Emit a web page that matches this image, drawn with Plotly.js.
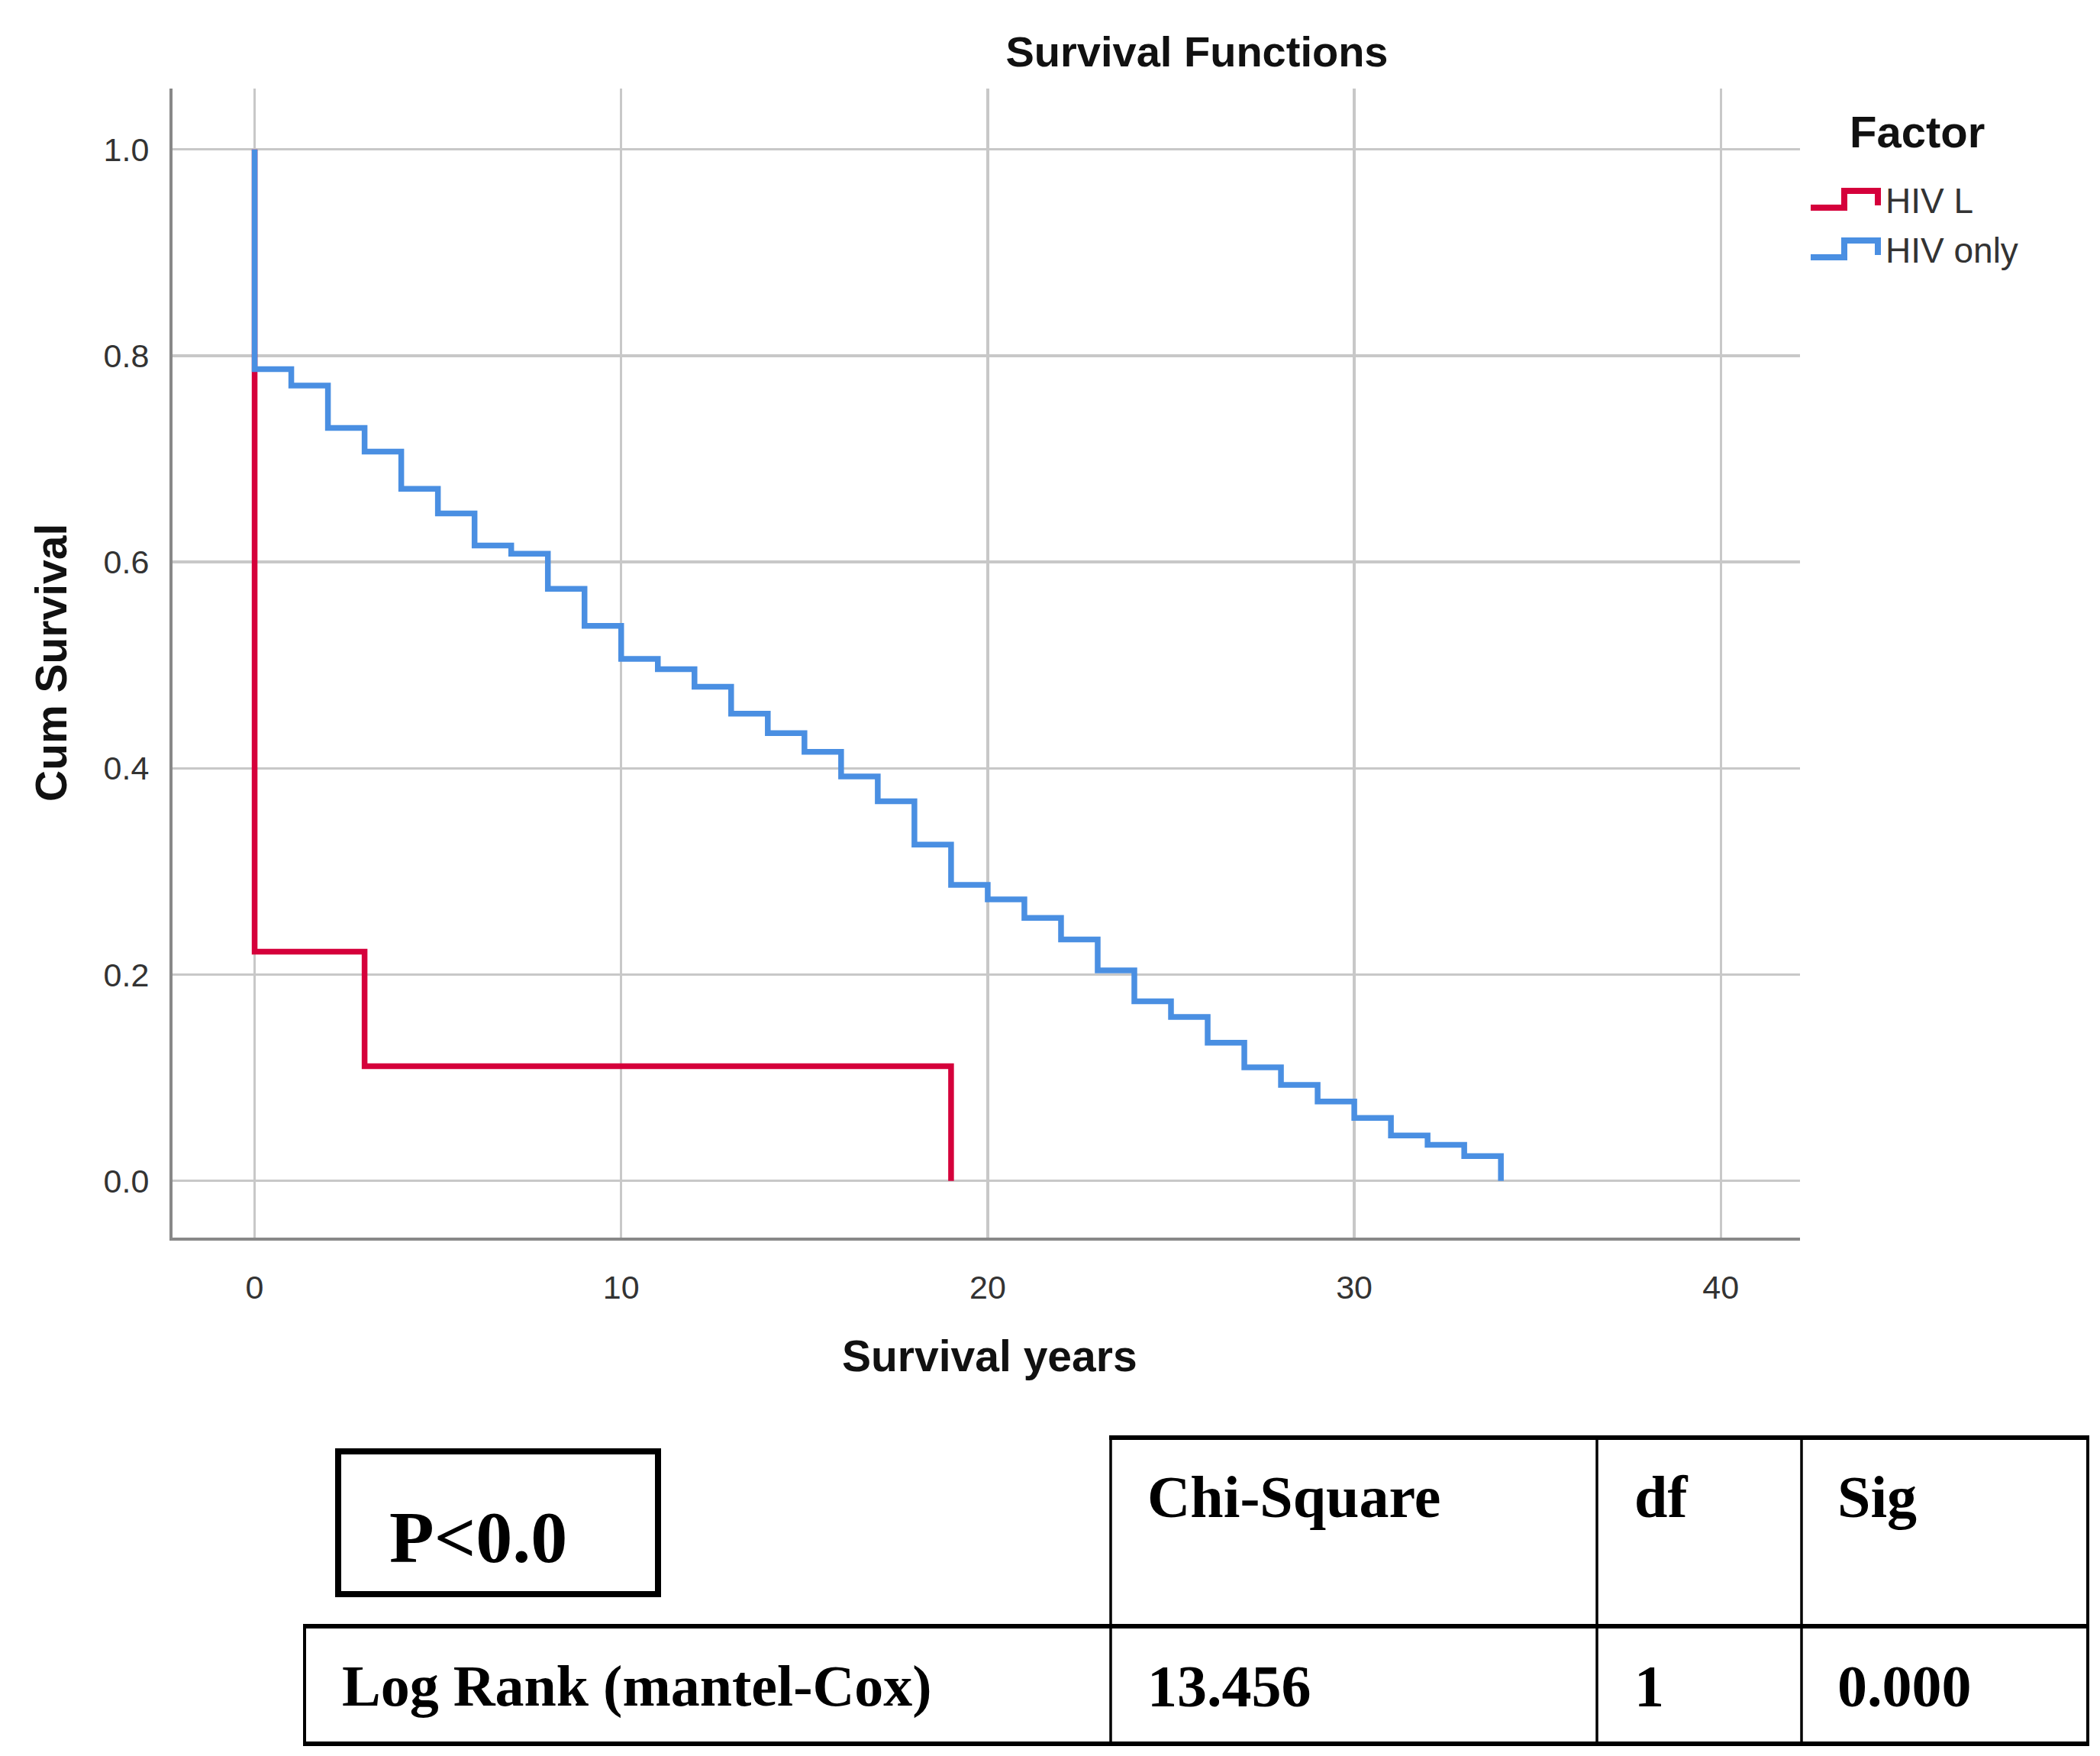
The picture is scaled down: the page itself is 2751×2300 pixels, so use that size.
<!DOCTYPE html>
<html>
<head>
<meta charset="utf-8">
<script src="https://cdn.plot.ly/plotly-3.0.1.min.js"></script>
<style>html,body{margin:0;padding:0;background:#fff;}#chart{width:2751px;height:2300px;}</style>
</head>
<body>
<div id="chart"></div>
<script>
// ---- data ----
const seriesNames = ["HIV L", "HIV only"];
const hivLTime = [0, 0, 3, 19];
const hivLSurv = [1.0, 0.2222, 0.1111, 0.0];
const hivOnlyTime = [0, 0, 1, 2, 3, 4, 5, 6, 7, 8, 9, 10, 11, 12, 13, 14, 15, 16, 17, 18, 19, 20, 21, 22, 23, 24, 25, 26, 27, 28, 29, 30, 31, 32, 33, 34];
const hivOnlySurv = [1.0, 0.787, 0.771, 0.730, 0.707, 0.671, 0.647, 0.616, 0.608, 0.574, 0.538, 0.506, 0.496, 0.479, 0.453, 0.434, 0.416, 0.392, 0.368, 0.326, 0.287, 0.273, 0.255, 0.234, 0.204, 0.174, 0.159, 0.134, 0.110, 0.093, 0.077, 0.061, 0.044, 0.035, 0.024, 0.0];
const xTicks = [0, 10, 20, 30, 40];
const yTicks = [0.0, 0.2, 0.4, 0.6, 0.8, 1.0];
const yTickLabels = ["0.0", "0.2", "0.4", "0.6", "0.8", "1.0"];
const tableHeader = ["Chi-Square", "df", "Sig"];
const tableRowLabel = "Log Rank (mantel-Cox)";
const tableRowValues = ["13.456", "1", "0.000"];
const pText = "P<0.0";

// ---- layout helpers (pixel -> paper) ----
const W = 2751, H = 2300;
const L = 226, R = 2358, T = 116, B = 1621;
const px = x => (x - L) / (R - L);
const py = y => (B - y) / (B - T);

const colors = ["#d5003b", "#4a8fe2"];
const sansFont = "Liberation Sans, Arial, sans-serif";
const serifFont = "Liberation Serif, Times New Roman, serif";

const traces = [
  {x: hivLTime, y: hivLSurv, name: seriesNames[0], type: "scatter", mode: "lines",
   line: {shape: "hv", color: colors[0], width: 7.5}, showlegend: false},
  {x: hivOnlyTime, y: hivOnlySurv, name: seriesNames[1], type: "scatter", mode: "lines",
   line: {shape: "hv", color: colors[1], width: 7.5}, showlegend: false}
];

const shapes = [];
const annotations = [];

// custom legend (step-shaped symbols)
[0, 1].forEach(i => {
  const dy = i * 65;
  const x0 = px(2372), x1 = px(2416), x2 = px(2460);
  const yl = py(272 + dy), yh = py(250 + dy), yt = py(269 + dy);
  shapes.push({type: "path", xref: "paper", yref: "paper",
    path: `M ${x0} ${yl} L ${x1} ${yl} L ${x1} ${yh} L ${x2} ${yh} L ${x2} ${yt}`,
    line: {color: colors[i], width: 8}});
  annotations.push({xref: "paper", yref: "paper", x: px(2468), y: py(263 + dy),
    xanchor: "left", yanchor: "middle", showarrow: false, text: seriesNames[i],
    font: {family: sansFont, size: 46, color: "#333"}});
});
annotations.push({xref: "paper", yref: "paper", x: px(2511), y: py(173), xanchor: "center", yanchor: "middle",
  showarrow: false, text: "<b>Factor</b>", font: {family: sansFont, size: 58, color: "#111"}});

// axis titles
annotations.push({xref: "paper", yref: "paper", x: px(1296), y: py(1776), xanchor: "center", yanchor: "middle",
  showarrow: false, text: "<b>Survival years</b>", font: {family: sansFont, size: 57, color: "#111"}});
annotations.push({xref: "paper", yref: "paper", x: px(67), y: py(868), xanchor: "center", yanchor: "middle",
  showarrow: false, textangle: -90, text: "<b>Cum Survival</b>", font: {family: sansFont, size: 57, color: "#111"}});

// P box
shapes.push({type: "rect", xref: "paper", yref: "paper", x0: px(443), x1: px(862), y0: py(1901), y1: py(2088),
  line: {color: "#000", width: 8}});
annotations.push({xref: "paper", yref: "paper", x: px(508), y: py(2014), xanchor: "left", yanchor: "middle",
  showarrow: false, text: "<b>" + pText.replace("<", "&lt;") + "</b>", font: {family: serifFont, size: 96, color: "#000"}});

// table lines
const hl = (xa, xb, y, w) => shapes.push({type: "line", xref: "paper", yref: "paper", x0: px(xa), x1: px(xb), y0: py(y), y1: py(y), line: {color: "#000", width: w}});
const vl = (x, ya, yb, w) => shapes.push({type: "line", xref: "paper", yref: "paper", x0: px(x), x1: px(x), y0: py(ya), y1: py(yb), line: {color: "#000", width: w}});
hl(1453, 2737, 1883, 6);
hl(397, 2737, 2130, 6);
hl(397, 2737, 2284, 6);
vl(399, 2130, 2284, 4);
vl(1455, 1883, 2284, 3.5);
vl(2092, 1883, 2284, 3.5);
vl(2360, 1883, 2284, 3.5);
vl(2735, 1883, 2284, 4);

const colX = [1501, 2139, 2405];
tableHeader.forEach((t, i) => annotations.push({xref: "paper", yref: "paper", x: px(colX[i]), y: py(1960),
  xanchor: "left", yanchor: "middle", showarrow: false, text: "<b>" + t + "</b>",
  font: {family: serifFont, size: 78, color: "#000"}}));
tableRowValues.forEach((t, i) => annotations.push({xref: "paper", yref: "paper", x: px(colX[i]), y: py(2208),
  xanchor: "left", yanchor: "middle", showarrow: false, text: "<b>" + t + "</b>",
  font: {family: serifFont, size: 78, color: "#000"}}));
annotations.push({xref: "paper", yref: "paper", x: px(446), y: py(2208), xanchor: "left", yanchor: "middle",
  showarrow: false, text: "<b>" + tableRowLabel + "</b>", font: {family: serifFont, size: 76, color: "#000"}});

const layout = {
  width: W, height: H,
  margin: {l: L, r: W - R, t: T, b: H - B, pad: 0},
  paper_bgcolor: "#fff", plot_bgcolor: "#fff",
  title: {text: "<b>Survival Functions</b>", xref: "container", yref: "container", x: 1568 / W, y: 1 - 67 / H,
    xanchor: "center", yanchor: "middle", font: {family: sansFont, size: 56, color: "#111"}},
  xaxis: {range: [-2.24, 42.16], tickvals: xTicks, ticktext: xTicks.map(String), showgrid: true,
    gridcolor: "#c8c8c8", gridwidth: 3.5, zeroline: false, showline: true, linecolor: "#888888", linewidth: 4,
    ticks: "", ticklabelstandoff: 24, tickfont: {family: sansFont, size: 43, color: "#333"}},
  yaxis: {range: [-0.055, 1.059], tickvals: yTicks, ticktext: yTickLabels, showgrid: true,
    gridcolor: "#c8c8c8", gridwidth: 3.5, zeroline: false, showline: true, linecolor: "#888888", linewidth: 4,
    ticks: "", ticklabelstandoff: 18, tickfont: {family: sansFont, size: 43, color: "#333"}},
  showlegend: false,
  shapes: shapes,
  annotations: annotations
};

Plotly.newPlot("chart", traces, layout, {displayModeBar: false, staticPlot: true});
</script>
</body>
</html>
